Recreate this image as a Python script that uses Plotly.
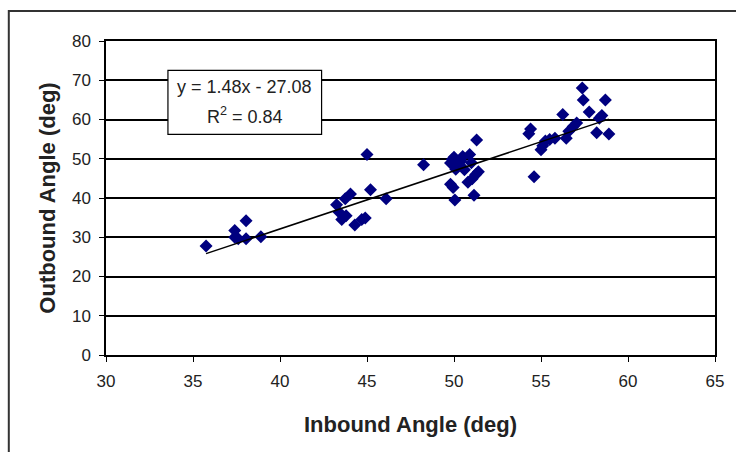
import plotly.graph_objects as go

inbound = [35.75, 37.4, 37.4, 37.6, 38.05, 38.05, 38.9,
           43.25, 43.4, 43.55, 43.8, 43.75, 44.05, 44.3, 44.7, 44.9, 45.0, 45.2, 46.1,
           48.25, 49.8, 49.9, 50.0, 50.1, 50.3, 50.5, 50.6, 50.9, 51.0, 51.3, 51.4,
           49.8, 49.95, 50.05, 50.8, 51.05, 51.25, 51.15, 50.2, 50.4,
           54.3, 54.4, 54.6, 55.0, 55.1, 55.25, 55.5, 55.8, 56.25, 56.45, 56.6,
           56.85, 57.05, 57.37, 57.43, 57.77, 58.2, 58.35, 58.5, 58.7, 58.9]
outbound = [27.8, 31.7, 30.0, 29.6, 34.2, 29.6, 30.1,
            38.3, 36.4, 34.5, 35.5, 39.8, 41.0, 33.1, 34.5, 34.9, 51.1, 42.1, 39.8,
            48.5, 48.9, 49.8, 50.4, 47.3, 48.5, 50.6, 47.2, 51.1, 49.0, 54.8, 46.7,
            43.5, 42.7, 39.5, 44.0, 44.9, 46.0, 40.7, 48.0, 49.4,
            56.4, 57.6, 45.4, 52.3, 53.3, 54.5, 54.9, 55.2, 61.3, 55.2, 57.0,
            58.2, 59.1, 68.0, 65.0, 61.9, 56.6, 60.3, 61.0, 65.0, 56.3]

slope = 1.48
intercept = -27.08
r_squared = 0.84

x_ticks = [30, 35, 40, 45, 50, 55, 60, 65]
y_ticks = [0, 10, 20, 30, 40, 50, 60, 70, 80]

FONT = "Liberation Sans, Arial, sans-serif"
TXT = "#222"

x_fit = [min(inbound), max(inbound)]
y_fit = [slope * v + intercept for v in x_fit]

fig = go.Figure()
fig.add_trace(go.Scatter(
    x=inbound, y=outbound, mode="markers",
    marker=dict(symbol="diamond", size=10, color="#000080"),
    showlegend=False, cliponaxis=False))
fig.add_trace(go.Scatter(
    x=x_fit, y=y_fit, mode="lines",
    line=dict(color="black", width=1.5),
    showlegend=False))

fig.update_layout(
    width=736, height=452,
    margin=dict(l=106, r=16, t=41, b=97),
    paper_bgcolor="white", plot_bgcolor="white",
    font=dict(family=FONT, size=17, color=TXT),
    xaxis=dict(range=[30, 65], tickvals=x_ticks, showgrid=False,
               showline=True, linecolor="black", linewidth=1.5, mirror=True,
               ticks="outside", ticklen=5, tickcolor="black", zeroline=False,
               ticklabelstandoff=5,
               tickfont=dict(size=17, color=TXT),
               title=dict(text="<b>Inbound Angle (deg)</b>", font=dict(size=22, color=TXT), standoff=26)),
    yaxis=dict(range=[0, 80], tickvals=y_ticks, showgrid=True, gridcolor="black", gridwidth=1.5,
               showline=True, linecolor="black", linewidth=1.5, mirror=True,
               ticks="outside", ticklen=5, tickcolor="black", zeroline=False,
               ticklabelstandoff=5,
               tickfont=dict(size=17, color=TXT),
               title=dict(text="<b>Outbound Angle (deg)</b>", font=dict(size=22, color=TXT), standoff=10)),
)

# Equation box
fig.add_shape(type="rect", xref="x", yref="y", x0=33.56, x1=42.39, y0=56.2, y1=72.5,
              fillcolor="white", line=dict(color="black", width=1.2), layer="above")
box_cx = (33.56 + 42.39) / 2
fig.add_annotation(xref="x", yref="y", x=box_cx, y=68.2,
                   text=f"y = {slope:.2f}x - {abs(intercept):.2f}",
                   showarrow=False, font=dict(size=18, color=TXT, family=FONT))
fig.add_annotation(xref="x", yref="y", x=box_cx, y=61.0,
                   text=f"R<sup>2</sup> = {r_squared:.2f}",
                   showarrow=False, font=dict(size=18, color=TXT, family=FONT))

# Outer chart frame
fig.add_shape(type="rect", xref="paper", yref="paper",
              x0=(8 - 106) / 614, x1=1.2, y0=-0.6, y1=(355 - 11) / 314,
              line=dict(color="#333", width=2), fillcolor="rgba(0,0,0,0)", layer="above")

fig.write_html("out.html")
